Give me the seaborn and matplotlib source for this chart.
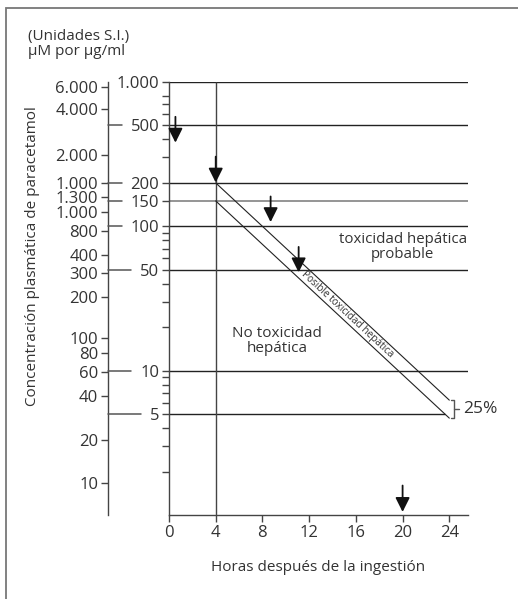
import numpy as np
import pandas as pd
import matplotlib
matplotlib.use("Agg")
import matplotlib.pyplot as plt
import seaborn as sns
from matplotlib.ticker import FixedLocator, NullLocator, NullFormatter
from matplotlib.patches import Rectangle

# Data
hour_ticks = [0, 4, 8, 12, 16, 20, 24]
major_levels = [1000, 500, 200, 150, 100, 50, 10, 5]
major_labels = ["1.000", "500", "200", "150", "100", "50", "10", "5"]
minor_levels = [2, 3, 4, 6, 7, 8, 9, 20, 30, 40, 60, 70, 80, 90, 300, 400, 600, 700, 800]

# left scale in umol/l (positions as printed, labels as printed)
umol_ticks = [6100, 4300, 2050, 1330, 1050, 830, 610, 420, 315, 215, 112, 88, 65, 44, 22, 11]
umol_labels = ["6.000", "4.000", "2.000", "1.000", "1.300", "1.000", "800", "400",
               "300", "200", "100", "80", "60", "40", "20", "10"]

line_hours = [4, 24]
upper_line = [200, 6.25]
lower_line = [150, 4.69]

arrow_hours = [0.55, 4, 8.7, 11.1, 20]
arrow_tops = [574, 304, 161, 72, 1.6]
arrow_tips = [380, 201, 107, 48, 1.05]

INK = "#222222"
TXT = "#333333"

sns.set_theme(style="ticks")
plt.rcParams["font.family"] = ["Open Sans", "DejaVu Sans"]
plt.rcParams["text.color"] = TXT
plt.rcParams["axes.labelcolor"] = TXT
plt.rcParams["xtick.color"] = TXT
plt.rcParams["ytick.color"] = TXT

fig = plt.figure(figsize=(5.18, 5.99), dpi=100)
fig.patch.set_facecolor("white")
ax = fig.add_axes([169 / 518, 1 - 515 / 599, 299 / 518, 433 / 599])
ax.set_facecolor("white")
ax.set_yscale("log")
ax.set_xlim(0, 25.6)
ax.set_ylim(1, 1000)

for s in ["top", "right"]:
    ax.spines[s].set_visible(False)
for s in ["left", "bottom"]:
    ax.spines[s].set_color("#444444")
    ax.spines[s].set_linewidth(1.0)

# ticks
ax.xaxis.set_major_locator(FixedLocator(hour_ticks))
ax.set_xticklabels([str(h) for h in hour_ticks])
ax.yaxis.set_major_locator(FixedLocator(major_levels))
ax.set_yticklabels(major_labels)
ax.yaxis.set_minor_locator(FixedLocator(minor_levels))
ax.yaxis.set_minor_formatter(NullFormatter())
ax.tick_params(axis="both", which="major", direction="out", length=5, width=1,
               labelsize=12, pad=2, color="#444444")
ax.tick_params(axis="y", which="minor", direction="out", length=5, width=1, color="#444444")

# horizontal reference lines
diag = pd.DataFrame({"hora": line_hours * 2,
                     "conc": upper_line + lower_line,
                     "linea": ["sup"] * 2 + ["inf"] * 2})
slope = np.log(lower_line[1] / lower_line[0]) / (line_hours[1] - line_hours[0])
x_end5 = line_hours[0] + np.log(5 / lower_line[0]) / slope
for lev in major_levels:
    xe = x_end5 if lev == 5 else 25.6
    col = "#8c8c8c" if lev == 150 else INK
    ax.hlines(lev, 0, xe, color=col, lw=1.3 if lev == 150 else 1.0, zorder=2)
ax.vlines(4, 1, 1000, color="#444444", lw=1.0, zorder=2)

sns.lineplot(data=diag, x="hora", y="conc", units="linea", estimator=None,
             color=INK, lw=0.8, ax=ax, legend=False)
ax.set_xlabel("")
ax.set_ylabel("")

# arrows
for h, top, tip in zip(arrow_hours, arrow_tops, arrow_tips):
    ax.annotate("", xy=(h, tip), xytext=(h, top),
                arrowprops=dict(arrowstyle="-|>,head_length=0.72,head_width=0.36",
                                mutation_scale=12, lw=1.3, color="#111111",
                                shrinkA=0, shrinkB=0), zorder=5)

# region labels
ax.text(20, 72, "toxicidad hepática\nprobable", ha="center", va="center",
        fontsize=10.8, linespacing=1.0)
ax.text(9.25, 16, "No toxicidad\nhepática", ha="center", va="center",
        fontsize=11, linespacing=1.0)

# band label rotated along the band
mid = [np.sqrt(u * l) for u, l in zip(upper_line, lower_line)]
p1 = ax.transData.transform((line_hours[0], mid[0]))
p2 = ax.transData.transform((line_hours[1], mid[1]))
ang = np.degrees(np.arctan2(p2[1] - p1[1], p2[0] - p1[0]))
t_txt = 15.3
m_txt = np.exp(np.interp(t_txt, line_hours, np.log(mid)))
ax.text(t_txt, m_txt, "Posible toxicidad hepática", rotation=ang,
        rotation_mode="anchor", ha="center", va="center", fontsize=7.2)

# 25% bracket
xb = 24.4
ax.plot([24.15, xb, xb, 24.15], [upper_line[1], upper_line[1], lower_line[1], lower_line[1]],
        color="#555555", lw=1.0, clip_on=False)
ax.plot([xb, 24.8], [mid[1], mid[1]], color="#555555", lw=1.0, clip_on=False)
ax.text(25.15, mid[1], "25%", ha="left", va="center", fontsize=12.5)

# left (umol) scale
sec = ax.secondary_yaxis(-0.204, functions=(lambda v: v * 6.62, lambda v: v / 6.62))
sec.set_alignment("left")
sec.yaxis.set_major_locator(FixedLocator(umol_ticks))
sec.set_yticklabels(umol_labels)
sec.yaxis.set_minor_locator(NullLocator())
sec.tick_params(axis="y", which="major", direction="out", length=5, width=1,
                labelsize=12, pad=2, color="#444444")
sec.spines["left"].set_color("#444444")
sec.spines["left"].set_linewidth(1.0)

# axis titles
ax.xaxis.set_label_coords(12 / 25.6, -0.104)
ax.set_xlabel("Horas después de la ingestión", fontsize=11)
fig.text(33 / 518, 1 - 256 / 599, "Concentración plasmática de paracetamol",
         rotation=90, ha="center", va="center", fontsize=11)
fig.text(28 / 518, 1 - 29 / 599, "(Unidades S.I.)\nμM por μg/ml", ha="left", va="top",
         fontsize=11, linespacing=1.0)

# connectors from the left scale to the inner labels
fig.canvas.draw()
renderer = fig.canvas.get_renderer()
inv = ax.transAxes.inverted()
for lab, lev in zip(ax.yaxis.get_majorticklabels(), major_levels):
    bb = lab.get_window_extent(renderer)
    x_ax = inv.transform((bb.x0 - 9, 0))[0]
    ax.plot([-0.204, x_ax], [lev, lev], transform=ax.get_yaxis_transform(),
            color="#555555", lw=1.1, clip_on=False)

# outer frame
fig.patches.append(Rectangle((6 / 518, -0.1), 2, 1.1 - 8 / 599, transform=fig.transFigure,
                             fill=False, ec="#777777", lw=1.3))

fig.savefig("out.png", dpi=100)
